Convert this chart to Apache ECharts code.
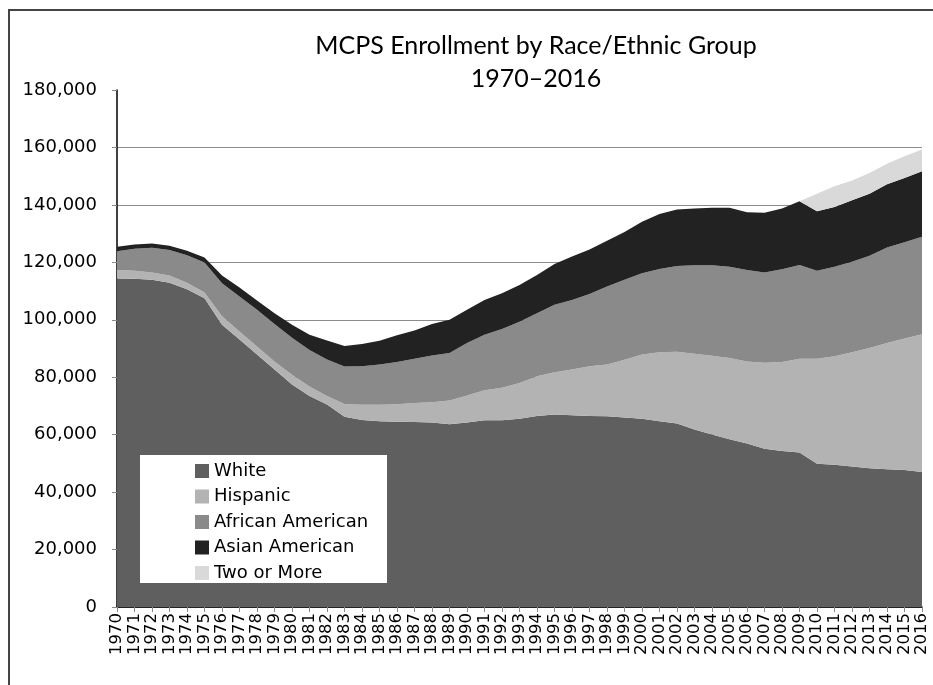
<!DOCTYPE html>
<html>
<head>
<meta charset="utf-8">
<script src="https://cdn.jsdelivr.net/npm/echarts@6/dist/echarts.min.js"></script>
<style>
html,body{margin:0;padding:0;background:#fff;}
#chart{width:933px;height:685px;}
</style>
</head>
<body>
<div id="chart"></div>
<script>
const years = ['1970','1971','1972','1973','1974','1975','1976','1977','1978','1979','1980','1981','1982','1983','1984','1985','1986','1987','1988','1989','1990','1991','1992','1993','1994','1995','1996','1997','1998','1999','2000','2001','2002','2003','2004','2005','2006','2007','2008','2009','2010','2011','2012','2013','2014','2015','2016'];

const white = [114400,114300,113900,112900,110600,107500,98300,93100,87900,82700,77500,73500,70500,66200,65100,64700,64500,64400,64200,63600,64200,65000,65000,65500,66500,67000,66800,66500,66400,66000,65500,64700,63900,61800,60100,58400,56900,55100,54300,53800,49900,49500,48900,48300,48000,47700,47000];
const hispanic = [2900,2800,2600,2500,2300,2000,2900,2800,2800,2800,3400,3300,3000,4500,5300,5700,6100,6600,7100,8300,9400,10500,11300,12500,13800,14700,15900,17300,18000,20100,22400,24000,25000,26400,27400,28300,28600,29900,31000,32600,36500,37800,39800,41900,43900,45800,48000];
const african = [6600,7600,8600,8900,9600,10400,11500,12200,12800,13000,12800,12700,12700,13000,13400,14000,14700,15400,16300,16500,18300,19300,20500,21300,22000,23500,24200,25200,27200,27800,28300,29000,29800,30800,31500,31800,31800,31500,32300,32700,30700,31200,31500,32100,33300,33500,33900];
const asian = [1500,1500,1500,1500,1500,1800,2700,3100,3200,3800,4600,5300,6600,7200,7800,8300,9300,9900,10900,11600,11600,12100,12400,12800,13300,14200,15100,15500,15900,16700,17900,19100,19700,19700,20000,20500,20100,20800,21100,22200,20700,20800,21400,21600,22000,22400,22800];
const twoOrMore = [0,0,0,0,0,0,0,0,0,0,0,0,0,0,0,0,0,0,0,0,0,0,0,0,0,0,0,0,0,0,0,0,0,0,0,0,0,0,0,0,6100,7200,6900,7200,7100,7500,7600];

const seriesNames = ['White','Hispanic','African American','Asian American','Two or More'];
const seriesColors = ['#5f5f5f','#b3b3b3','#8a8a8a','#222222','#d9d9d9'];
const seriesData = [white, hispanic, african, asian, twoOrMore];

const chart = echarts.init(document.getElementById('chart'), null, {renderer:'canvas'});

const series = seriesNames.map((name, i) => ({
  name: name,
  type: 'line',
  stack: 'total',
  data: seriesData[i],
  showSymbol: false,
  symbol: 'none',
  smooth: false,
  lineStyle: {width: 0, color: seriesColors[i]},
  itemStyle: {color: seriesColors[i]},
  areaStyle: {color: seriesColors[i], opacity: 1},
  emphasis: {disabled: true},
  animation: false
}));

chart.setOption({
  animation: false,
  backgroundColor: '#ffffff',
  grid: {left: 117, right: 11, top: 90, bottom: 78, containLabel: false},
  xAxis: {
    type: 'category',
    data: years,
    boundaryGap: false,
    axisLine: {lineStyle: {color: '#000', width: 1.5}},
    axisTick: {show: true, alignWithLabel: true, interval: 0, length: 5, lineStyle: {color: '#888'}},
    axisLabel: {interval: 0, rotate: 90, margin: 6, color: '#000', fontFamily: 'DejaVu Sans', fontSize: 16.5},
    splitLine: {show: false}
  },
  yAxis: {
    type: 'value',
    min: 0, max: 180000, interval: 20000,
    axisLine: {show: true, lineStyle: {color: '#000', width: 1.5}},
    axisTick: {show: true, length: 5, lineStyle: {color: '#888'}},
    axisLabel: {
      margin: 20, color: '#000', fontFamily: 'DejaVu Sans', fontSize: 18,
      formatter: v => v.toLocaleString('en-US')
    },
    splitLine: {show: true, showMaxLine: false, lineStyle: {color: '#8c8c8c', width: 1.2}}
  },
  legend: {
    orient: 'vertical',
    left: 190, top: 457,
    data: seriesNames,
    icon: 'rect',
    itemWidth: 14, itemHeight: 14,
    itemGap: 7.5,
    z: 60,
    textStyle: {fontFamily: 'DejaVu Sans', fontSize: 18, color: '#000', lineHeight: 18},
    selectedMode: false
  },
  graphic: [
    {type: 'rect', z: 50, shape: {x: 140, y: 455, width: 247, height: 128}, style: {fill: '#fff'}},
    {type: 'rect', z: 100, shape: {x: 9, y: 10, width: 1000, height: 1000}, style: {fill: 'none', stroke: '#444', lineWidth: 2}},
    {type: 'text', z: 100, style: {text: 'MCPS Enrollment by Race/Ethnic Group\n1970–2016', x: 536, y: 29, textAlign: 'center', font: '25px Lato', lineHeight: 33, fill: '#000'}}
  ],
  series: series
});
</script>
</body>
</html>
